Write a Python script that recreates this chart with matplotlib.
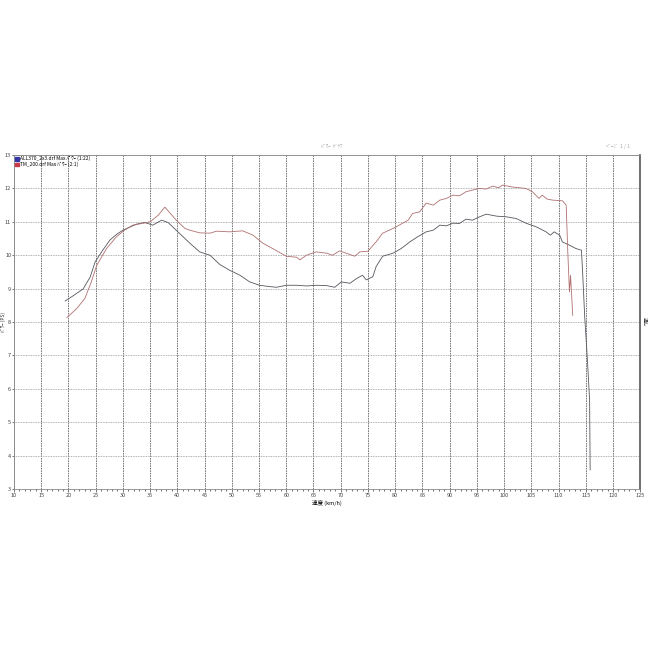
import numpy as np
import matplotlib
matplotlib.use("Agg")
import matplotlib.pyplot as plt
from matplotlib.patches import Patch

plt.rcParams['font.family'] = ['Noto Sans CJK JP', 'DejaVu Sans']

# speed (km/h) / power (PS)
speed_red = [19.7, 21.5, 23.0, 24.2, 25.2, 27.0, 28.8, 30.3, 31.8, 33.5,
             35.0, 36.5, 37.7, 39.8, 41.4, 42.3, 44.1, 46.0, 47.2, 49.6,
             52.0, 53.9, 55.7, 57.5, 60.0, 61.9, 62.5, 63.7, 65.5, 67.4,
             68.5, 69.8, 71.0, 72.6, 73.5, 75.0, 76.5, 77.7, 79.6, 81.4,
             82.4, 83.2, 84.5, 85.7, 87.0, 88.2, 89.4, 90.6, 91.8, 93.0,
             94.2, 95.5, 96.7, 97.9, 99.0, 99.7, 101.6, 102.8, 104.0, 105.2,
             106.4, 107.0, 107.9, 108.9, 110.7, 111.4, 111.7, 112.0, 112.2, 112.6]
power_red = [8.13, 8.4, 8.7, 9.2, 9.7, 10.2, 10.55, 10.75, 10.9, 10.95,
             11.0, 11.2, 11.44, 11.05, 10.8, 10.75, 10.67, 10.66, 10.72, 10.7,
             10.73, 10.6, 10.36, 10.2, 9.97, 9.94, 9.86, 10.0, 10.1, 10.06,
             10.0, 10.13, 10.06, 9.97, 10.1, 10.12, 10.4, 10.66, 10.8, 10.96,
             11.05, 11.25, 11.3, 11.56, 11.5, 11.65, 11.7, 11.8, 11.78, 11.9,
             11.95, 12.0, 11.98, 12.07, 12.02, 12.1, 12.04, 12.02, 12.0, 11.9,
             11.7, 11.8, 11.68, 11.65, 11.63, 11.5, 10.07, 8.9, 9.4, 8.2]

speed_dark = [19.4, 21.0, 22.7, 24.0, 24.9, 26.3, 27.6, 28.8, 30.0, 32.5,
              34.0, 35.5, 37.1, 38.3, 40.1, 42.3, 44.1, 46.0, 47.8, 49.6,
              51.5, 53.3, 55.1, 57.0, 58.2, 60.0, 61.9, 63.7, 65.5, 67.4,
              68.9, 70.1, 71.7, 72.9, 74.0, 74.7, 75.9, 76.5, 77.7, 79.6,
              81.1, 82.7, 84.1, 85.7, 87.0, 88.2, 89.4, 90.6, 91.8, 93.0,
              94.2, 95.5, 96.7, 98.6, 100.4, 102.2, 104.0, 105.9, 107.7, 108.5,
              109.2, 110.2, 110.7, 112.0, 113.2, 114.2, 114.4, 114.8, 115.3, 115.7,
              115.8]
power_dark = [8.63, 8.8, 8.99, 9.35, 9.8, 10.15, 10.45, 10.62, 10.75, 10.93,
              10.98, 10.9, 11.05, 10.98, 10.7, 10.36, 10.1, 10.0, 9.72, 9.55,
              9.4, 9.2, 9.1, 9.06, 9.04, 9.1, 9.1, 9.08, 9.1, 9.09,
              9.04, 9.2, 9.16, 9.3, 9.4, 9.26, 9.36, 9.66, 9.97, 10.06,
              10.2, 10.4, 10.55, 10.7, 10.75, 10.9, 10.88, 10.96, 10.95, 11.08,
              11.05, 11.15, 11.23, 11.17, 11.15, 11.1, 10.96, 10.85, 10.7, 10.6,
              10.7, 10.6, 10.4, 10.3, 10.2, 10.15, 9.55, 8.16, 6.86, 5.66,
              3.57]

legend_labels = ["ALL370_2x3.drf Max ﾊﾟﾜｰ (1:22)", "TM_200.drf Max ﾊﾟﾜｰ (2:1)"]
x_ticks = list(range(10, 130, 5))
y_ticks = list(range(3, 14))

fig = plt.figure(figsize=(6.5, 6.5), dpi=100)
ax = fig.add_axes([0.0215, 0.2477, 0.9635, 0.5138])

ax.plot(speed_dark, power_dark, color='#55555e', lw=0.6)
ax.plot(speed_red, power_red, color='#b07070', lw=0.6)

ax.set_xlim(10, 125)
ax.set_ylim(3, 13)
ax.set_xticks(x_ticks)
ax.set_yticks(y_ticks)
ax.set_xticks(np.arange(10, 126, 1), minor=True)
ax.tick_params(axis='both', labelsize=4, length=2, width=0.5, pad=1, colors='#444')
ax.tick_params(axis='y', pad=0.5, length=1.5)
ax.tick_params(axis='x', which='minor', length=1.2, width=0.4)

ax.grid(axis='x', color='#666', lw=0.6, ls=(0, (2, 1)))
ax.grid(axis='y', color='#999', lw=0.6, ls=(0, (1, 1)))
for s in ax.spines.values():
    s.set_color('#888')
    s.set_linewidth(0.6)
ax.spines['right'].set_color('#555')
ax.spines['right'].set_linewidth(1.2)

ax.set_xlabel("速度 (km/h)", fontsize=4, labelpad=1)
fig.text(0.0045, 0.505, "ﾊﾟﾜｰ (PS)", fontsize=3.5, color='#333', rotation=90,
         ha='center', va='center')

handles = [Patch(facecolor='#3535a5', edgecolor='#3535a5'),
           Patch(facecolor='#c83a4a', edgecolor='#c83a4a')]
ax.legend(handles, legend_labels, loc='upper left', fontsize=3.5, frameon=False,
          handlelength=0.8, handleheight=0.8, handletextpad=0.3, labelspacing=0.05,
          borderaxespad=0.1, borderpad=0.1)

fig.text(0.51, 0.773, "ﾊﾟﾜｰ  ｸﾞﾗﾌ", fontsize=3.5, color='#aaa', ha='center')
fig.text(0.95, 0.773, "ﾍﾟｰｼﾞ  1 / 1", fontsize=3.5, color='#aaa', ha='center')
fig.text(0.995, 0.505, "通し", fontsize=3.5, color='#333', rotation=-90, ha='right', va='center')

fig.savefig("out.png", dpi=100, facecolor='white')
